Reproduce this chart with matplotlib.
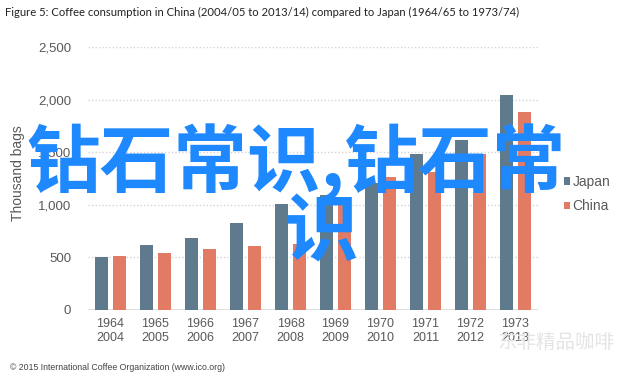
import numpy as np
import matplotlib
matplotlib.use("Agg")
import matplotlib.pyplot as plt

# data (thousand bags)
japan_years = ["1964", "1965", "1966", "1967", "1968", "1969", "1970", "1971", "1972", "1973"]
china_years = ["2004", "2005", "2006", "2007", "2008", "2009", "2010", "2011", "2012", "2013"]
japan = [500, 618, 684, 827, 1008, 1093, 1210, 1483, 1616, 2044]
china = [513, 542, 580, 608, 627, 998, 1264, 1312, 1483, 1882]
yticks = [0, 500, 1000, 1500, 2000, 2500]

c_japan = "#5f7a8c"
c_china = "#e27b63"
tick_grey = "#595959"

fig = plt.figure(figsize=(6.4, 3.77), dpi=100)
ax = fig.add_axes([88 / 640, 1 - 310 / 377, 450 / 640, (310 - 47) / 377])

x = np.arange(len(japan))
w = 0.29
ax.bar(x - 0.19, japan, w, color=c_japan, label="Japan", zorder=3)
ax.bar(x + 0.19, china, w, color=c_china, label="China", zorder=3)

ax.set_xlim(-0.5, 9.5)
ax.set_ylim(0, 2500)
ax.set_yticks(yticks)
ax.set_yticklabels([f"{v:,}" for v in yticks], fontsize=9.5, color=tick_grey,
                   family="Liberation Sans")
ax.set_xticks(x)
ax.set_xticklabels([f"{a}\n{b}" for a, b in zip(japan_years, china_years)],
                   fontsize=9, color=tick_grey, family="Liberation Sans", linespacing=1.15)
ax.tick_params(length=0, pad=12, axis="y")
ax.tick_params(length=0, pad=6, axis="x")

for v in yticks[1:]:
    ax.axhline(v, color="#d4d4d4", lw=1, ls=(0, (1, 1.5)), zorder=1)
ax.axhline(0, color="#d9d9d9", lw=1.2, zorder=2)
for s in ax.spines.values():
    s.set_visible(False)

ax.set_ylabel("Thousand bags", fontsize=10, color=tick_grey, family="Liberation Sans")
ax.yaxis.set_label_coords(-0.14, 0.52)

leg = ax.legend(loc="center left", bbox_to_anchor=(551 / 640, 1 - 194 / 377),
                bbox_transform=fig.transFigure, frameon=False,
                prop={"family": "Liberation Sans", "size": 10},
                handlelength=0.45, handleheight=0.45, handletextpad=0.2,
                labelspacing=0.75)
for t in leg.get_texts():
    t.set_color(tick_grey)

fig.text(5 / 640, 1 - 12 / 377,
         "Figure 5: Coffee consumption in China (2004/05 to 2013/14) compared to Japan (1964/65 to 1973/74)",
         fontsize=8.1, family="Lato", color="#222222", va="center", ha="left")
fig.text(10 / 640, 1 - 367 / 377,
         "\u00a9 2015 International Coffee Organization (www.ico.org)",
         fontsize=6.3, family="Liberation Sans", color="#444444", va="center", ha="left")

# faint watermark at the bottom right
fig.text(556 / 640, 1 - 342 / 377, "东非精品咖啡", fontsize=14,
         family=["Noto Sans CJK SC", "DejaVu Sans"], color="#e4e4e4",
         va="center", ha="center", zorder=5)

# large blue overlay text
cjk = ["Noto Sans CJK SC", "DejaVu Sans"]
fig.text(296 / 640, 1 - 163 / 377, "钻石常识,钻石常", fontsize=53, family=cjk,
         weight="bold", color="#1e88ff", va="center", ha="center", zorder=10)
fig.text(321 / 640, 1 - 234 / 377, "识", fontsize=53, family=cjk,
         weight="bold", color="#1e88ff", va="center", ha="center", zorder=10)

fig.savefig("out.png", dpi=100, facecolor="white")
